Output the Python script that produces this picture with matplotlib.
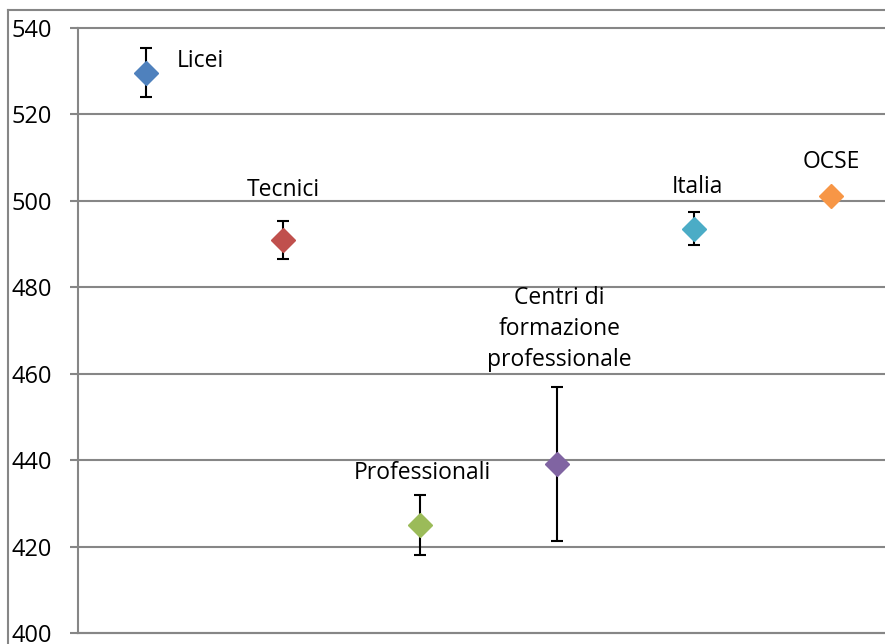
import matplotlib
matplotlib.use("Agg")
import matplotlib.pyplot as plt
from matplotlib.lines import Line2D

plt.rcParams["font.family"] = ["Open Sans", "DejaVu Sans"]

# Data
labels = ["Licei", "Tecnici", "Professionali", "Centri di\nformazione\nprofessionale", "Italia", "OCSE"]
means = [529.7, 490.9, 425.0, 439.1, 493.6, 501.1]
errors = [5.6, 4.4, 7.0, 17.8, 3.8, 0.0]
colors = ["#4f81bd", "#c0504d", "#9bbb59", "#8064a2", "#4bacc6", "#f79646"]

# Label offsets in pixels (dx, dy) relative to each point
label_offsets = [(31, 12), (0, 50), (3, 52), (3, 135), (4, 42), (1, 34)]

W, H = 885, 644
fig = plt.figure(figsize=(W / 100, H / 100), dpi=100)
ax = fig.add_axes([78 / W, 1 - 633.3 / H, 1 - 78 / W, (633.3 - 28) / H])

grid_color = "#868686"
xs = list(range(1, len(means) + 1))
for x, m, e, c in zip(xs, means, errors, colors):
    if e > 0:
        ax.errorbar(x, m, yerr=e, fmt="none", ecolor="black", elinewidth=1.5,
                    capsize=4, capthick=1.5, zorder=3)
    ax.plot(x, m, marker="D", markersize=12, color=c, markeredgecolor=c,
            linestyle="none", zorder=4)

for x, m, lab, (dx, dy) in zip(xs, means, labels, label_offsets):
    if lab == "Licei":
        ha = "left"
    else:
        ha = "center"
    ax.annotate(lab, (x, m), xytext=(dx, dy), textcoords="offset pixels",
                ha=ha, va="center", fontsize=16.5, color="black",
                linespacing=1.4, zorder=5)

ax.set_ylim(400, 540)
ax.set_xlim(0.503, 6.398)
ax.set_yticks(range(400, 541, 20))
ax.set_xticks([])
ax.yaxis.grid(True, color=grid_color, linewidth=1.5)
for gl in ax.get_ygridlines():
    gl.set_clip_on(False)
ax.set_axisbelow(True)
for side in ["top", "right"]:
    ax.spines[side].set_visible(False)
for side in ["left", "bottom"]:
    ax.spines[side].set_color(grid_color)
    ax.spines[side].set_linewidth(1.5)
ax.tick_params(axis="y", length=6, width=1.5, color=grid_color, labelsize=17, pad=12.5)

# outer chart border (left and top edges)
fig.add_artist(Line2D([8 / W, 8 / W], [0, 1 - 10 / H], color=grid_color, linewidth=1.5))
fig.add_artist(Line2D([8 / W, 1], [1 - 10 / H, 1 - 10 / H], color=grid_color, linewidth=1.5))

fig.savefig("out.png", dpi=100)
